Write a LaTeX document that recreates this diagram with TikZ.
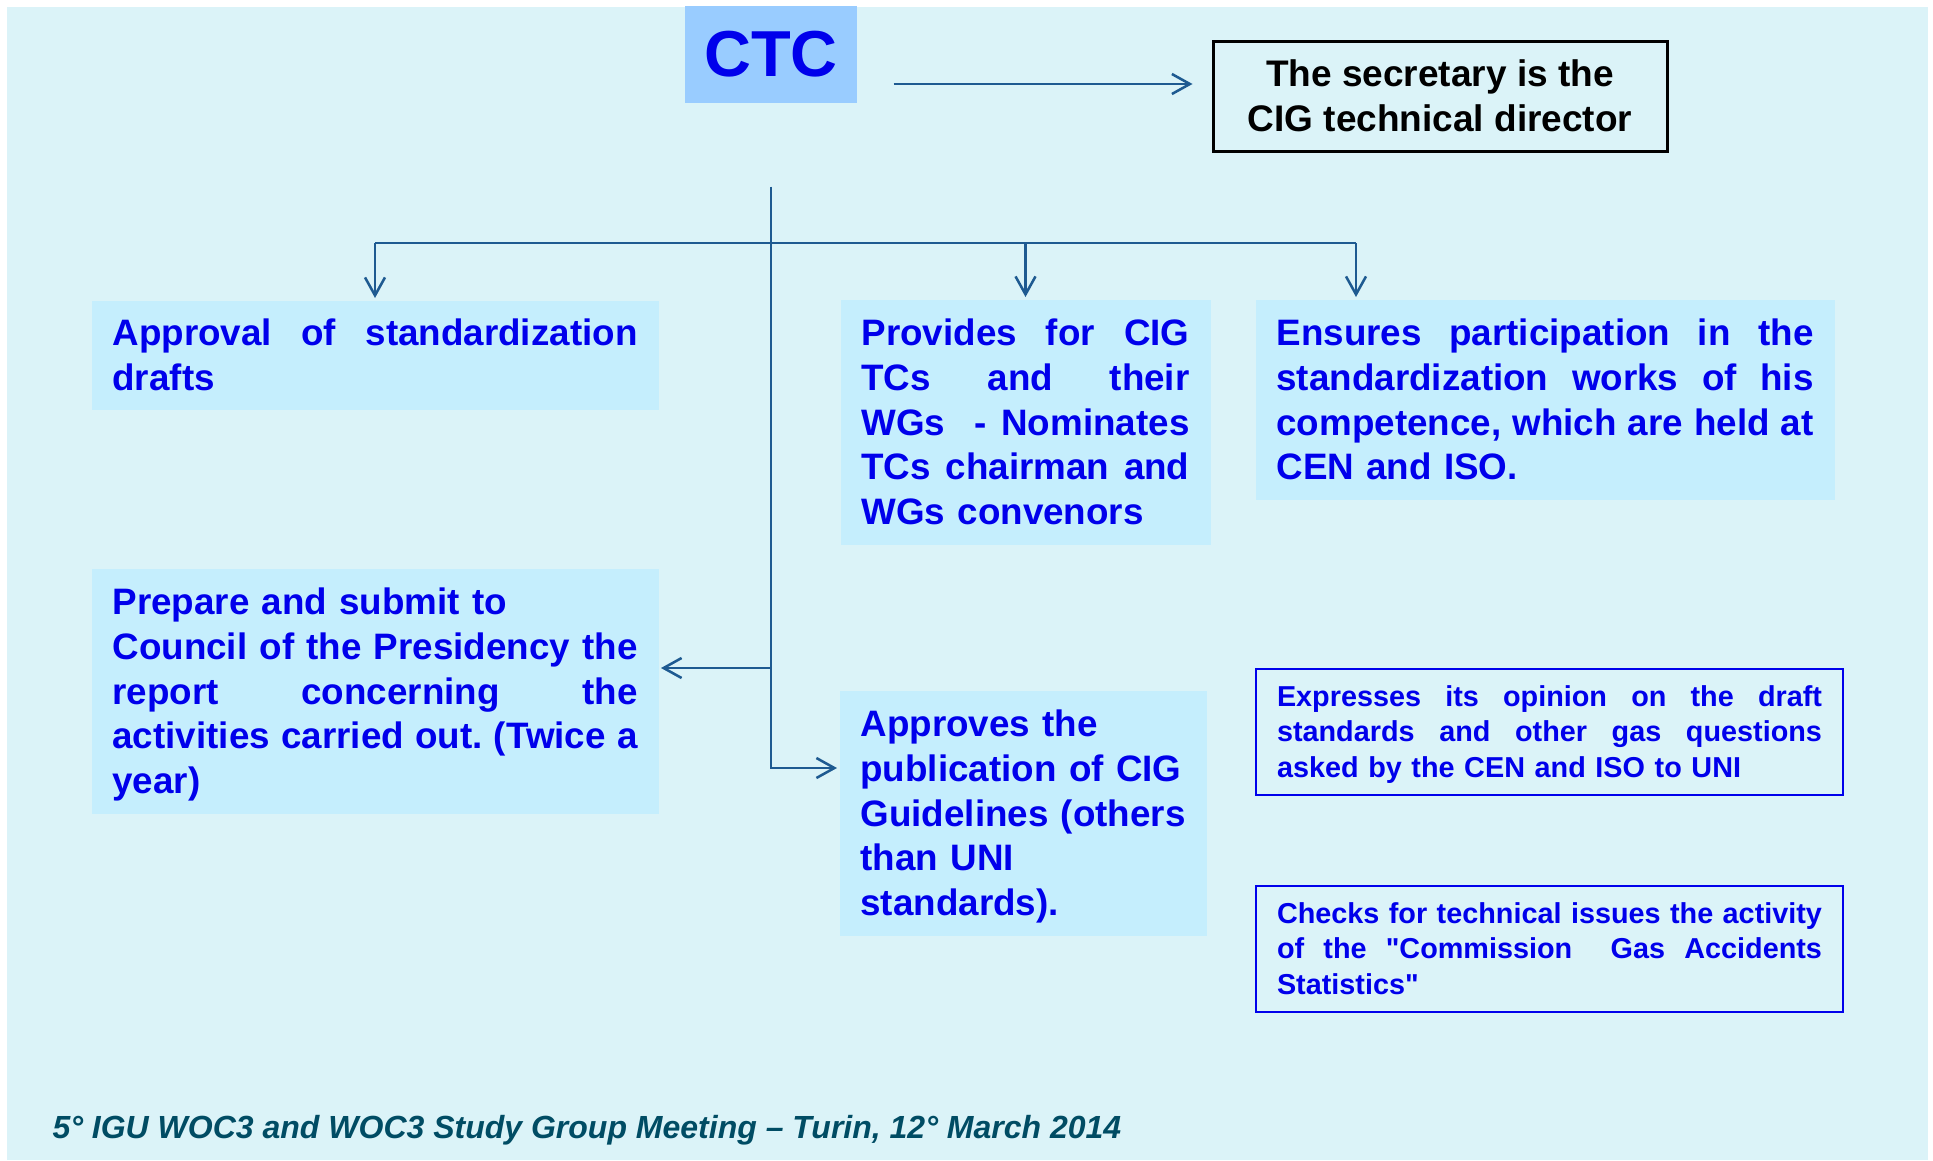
\documentclass[tikz,border=0pt]{standalone}
\usepackage{fontspec}
\setmainfont{Liberation Sans}
\usetikzlibrary{arrows.meta}
\frenchspacing
\hyphenpenalty=10000

\definecolor{bgcol}{HTML}{DBF3F8}
\definecolor{boxcol}{HTML}{C5EEFD}
\definecolor{ctccol}{HTML}{99CCFF}
\definecolor{txtblue}{RGB}{0,0,235}
\definecolor{linecol}{RGB}{30,90,145}
\definecolor{footcol}{RGB}{0,76,100}

% justified line: every space stretches the same
\newcommand{\jline}[1]{\leavevmode\hbox to\linewidth{\spaceskip=0.278em plus 1fil\relax #1}}
\newcommand{\dutytxt}{\fontsize{27.6pt}{33.6pt}\selectfont\bfseries}
\newcommand{\notetxt}{\fontsize{21.6pt}{26.85pt}\selectfont\bfseries}
\newcommand{\ctctxt}{\fontsize{48.75pt}{56pt}\selectfont\bfseries}
\newcommand{\sectxt}{\fontsize{27.75pt}{33.75pt}\selectfont\bfseries}
\newcommand{\foottxt}{\fontsize{24pt}{28pt}\selectfont\bfseries\itshape}

\tikzset{every picture/.style={line width=0.75pt}}
\tikzset{
  conn/.style={draw=linecol, line width=1.9pt},
  arr/.style={conn, -{Straight Barb[length=13.5pt,width=15pt]}, shorten >=1.5pt},
  dutybox/.style={fill=boxcol, text=txtblue, font=\dutytxt, anchor=north west,
    align=left, inner xsep=15.75pt, inner ysep=0pt},
  notebox/.style={draw=txtblue, line width=1.5pt, text=txtblue, font=\notetxt,
    anchor=north west, align=left, inner xsep=15.75pt, inner ysep=0pt,
    text width=408.75pt, text height=27.75pt, text depth=66.75pt},
}

\begin{document}
\begin{tikzpicture}[x=0.75pt,y=0.75pt,yscale=-1,xscale=1]
\useasboundingbox (0,0) rectangle (1933,1160);
\fill[white] (0,0) rectangle (1933,1160);
\fill[bgcol] (7,7) rectangle (1928,1160);

% top row
\node[fill=ctccol, minimum width=129pt, minimum height=72.75pt, inner sep=0pt,
  text=txtblue, font=\ctctxt] (ctc) at (771,54.5) {CTC};
\node[draw=black, line width=2.25pt, minimum width=340.5pt, minimum height=82.5pt,
  inner sep=0pt, align=center, font=\sectxt] (sec) at (1440,96)
  {The secretary is the\\CIG technical director};

% tasks
\node[dutybox, text width=393.75pt, text height=33.75pt, text depth=48pt] (approval) at (91,300)
  {\jline{Approval of standardization}\\drafts};
\node[dutybox, text width=246pt, text height=34.5pt, text depth=149.25pt] (provides) at (840,299)
  {\jline{Provides for CIG}\\ \jline{TCs and their}\\ \jline{WGs\ \ - Nominates}\\
   \jline{TCs chairman and}\\ WGs convenors};
\node[dutybox, text width=402.75pt, text height=34.5pt, text depth=115.5pt] (ensures) at (1255,299)
  {\jline{Ensures participation in the}\\ \jline{standardization works of his}\\
   \jline{competence, which are held at}\\ CEN and ISO.};
\node[dutybox, text width=393.75pt, text height=34.5pt, text depth=149.25pt] (prepare) at (91,568)
  {Prepare and submit to\\ \jline{Council of the Presidency the}\\ \jline{report concerning the}\\
   \jline{activities carried out. (Twice a}\\ year)};
\node[dutybox, text width=243.75pt, text height=34.5pt, text depth=149.25pt] (approves) at (839,690)
  {Approves the\\ publication of CIG\\ \mbox{Guidelines (others}\\ than UNI\\ standards).};
\node[notebox] (expresses) at (1255,668)
  {\jline{Expresses its opinion on the draft}\\ \jline{standards and other gas questions}\\
   asked by the CEN and ISO to UNI};
\node[notebox] (checks) at (1255,885)
  {\jline{Checks for technical issues the activity}\\
   \jline{of the \textquotedbl Commission\ \ Gas Accidents}\\
   Statistics\textquotedbl};

\node[anchor=base west, inner sep=0pt, text=footcol, font=\foottxt] (footer) at (52,1138)
  {5° IGU WOC3 and WOC3 Study Group Meeting – Turin, 12° March 2014};

% connectors
\coordinate (secrow) at (0,84);
\coordinate (bar) at (0,243);
\coordinate (leftarm) at (0,668);
\coordinate (rightarm) at (0,768);
\coordinate (ensx) at (1356,243);

\draw[arr, shorten <=27pt, shorten >=14.25pt] (ctc.east |- secrow) -- (sec.west |- secrow);
\draw[arr, shorten <=62.25pt] (ctc.south) -- (ctc.south |- rightarm) -- (rightarm -| approves.west);
\draw[arr] (ctc.south |- leftarm) -- (leftarm -| prepare.east);
\draw[conn] (bar -| approval.north) -- (ensx);
\draw[arr] (bar -| approval.north) -- (approval.north);
\draw[arr] (bar -| provides.north) -- (provides.north);
\draw[arr] (ensx) -- (ensx |- ensures.north);
\end{tikzpicture}
\end{document}
